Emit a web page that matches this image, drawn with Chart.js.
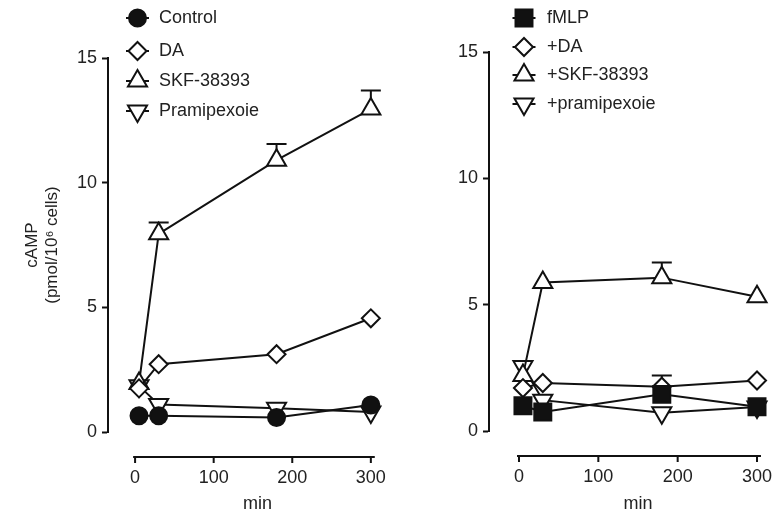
<!DOCTYPE html>
<html>
<head>
<meta charset="utf-8">
<script src="https://cdn.jsdelivr.net/npm/chart.js@4.4.1/dist/chart.umd.min.js"></script>
<style>
  html, body { margin: 0; padding: 0; background: #fff; overflow: hidden; }
  #wrap { position: relative; width: 784px; height: 515px; overflow: hidden; }
  canvas { position: absolute; top: 0; }
  #left { left: 0; }
  #right { left: 392px; }
</style>
</head>
<body>
<div id="wrap">
  <canvas id="left" width="420" height="515"></canvas>
  <canvas id="right" width="410" height="515"></canvas>
</div>
<script>
// time points (min)
var minutes = [5, 30, 180, 300];

// left panel
var leftLabels = ["Control", "DA", "SKF-38393", "Pramipexoie"];
var control = [0.65, 0.65, 0.58, 1.08];
var da = [1.75, 2.72, 3.12, 4.56];
var skf = [1.95, 7.95, 10.9, 12.95];
var skfErr = [0, 0.45, 0.65, 0.75];
var pramipexole = [1.85, 1.1, 0.95, 0.8];

// right panel
var rightLabels = ["fMLP", "+DA", "+SKF-38393", "+pramipexoie"];
var fmlp = [1.0, 0.75, 1.45, 0.96];
var fmlpDa = [1.7, 1.9, 1.75, 2.0];
var fmlpDaErr = [0, 0, 0.45, 0];
var fmlpSkf = [2.2, 5.88, 6.07, 5.31];
var fmlpSkfErr = [0, 0, 0.6, 0];
var fmlpPram = [2.55, 1.22, 0.72, 0.95];

var ink = "#111";
var textInk = "#222";
var family = "'Liberation Sans', Arial, sans-serif";

Chart.defaults.font.family = family;
Chart.defaults.font.size = 18;
Chart.defaults.color = textInk;

var markers = {
  circle: { style: "circle", radius: 8.5, fill: ink },
  diamond: { style: "rectRot", radius: 9, fill: "#fff" },
  up: { style: "triangle", radius: 11, fill: "#fff" },
  down: { style: "triangle", rotation: 180, radius: 11, fill: "#fff" },
  square: { style: "rect", radius: 12, fill: ink }
};

function series(values) {
  return minutes.map(function (m, i) { return { x: m, y: values[i] }; });
}

function makeSet(label, values, marker, errors) {
  return {
    label: label,
    data: series(values),
    errorBars: errors || null,
    borderColor: ink,
    borderWidth: 2,
    pointStyle: marker.style,
    pointRotation: marker.rotation || 0,
    pointRadius: marker.radius,
    pointHoverRadius: marker.radius,
    pointBackgroundColor: marker.fill,
    pointBorderColor: ink,
    pointBorderWidth: 2,
    tension: 0,
    clip: false
  };
}

// error bars drawn upward only, before the markers
var errorBarPlugin = {
  id: "errorBars",
  beforeDatasetsDraw: function (chart) {
    var ctx = chart.ctx, yScale = chart.scales.y;
    chart.data.datasets.forEach(function (ds, i) {
      if (!ds.errorBars) return;
      var meta = chart.getDatasetMeta(i);
      meta.data.forEach(function (pt, j) {
        var err = ds.errorBars[j];
        if (!err) return;
        var top = yScale.getPixelForValue(ds.data[j].y + err);
        ctx.save();
        ctx.strokeStyle = ink;
        ctx.lineWidth = 2;
        ctx.beginPath();
        ctx.moveTo(pt.x, pt.y);
        ctx.lineTo(pt.x, top);
        ctx.moveTo(pt.x - 10, top);
        ctx.lineTo(pt.x + 10, top);
        ctx.stroke();
        ctx.restore();
      });
    });
  }
};

// x axis sits a little below the y axis origin
var offsetAxisPlugin = {
  id: "offsetAxis",
  afterDraw: function (chart, args, opts) {
    var xScale = chart.scales.x, ctx = chart.ctx;
    var yLine = chart.chartArea.bottom + opts.gap;
    ctx.save();
    ctx.strokeStyle = ink;
    ctx.lineWidth = 2;
    ctx.beginPath();
    ctx.moveTo(xScale.getPixelForValue(opts.from), yLine);
    ctx.lineTo(xScale.getPixelForValue(opts.to), yLine);
    xScale.ticks.forEach(function (t) {
      var px = xScale.getPixelForValue(t.value);
      ctx.moveTo(px, yLine);
      ctx.lineTo(px, yLine + opts.tickLength);
    });
    ctx.stroke();
    ctx.restore();
  }
};

var panelLegendPlugin = {
  id: "panelLegend",
  afterDraw: function (chart, args, opts) {
    var ctx = chart.ctx, area = chart.chartArea;
    chart.data.datasets.forEach(function (ds, i) {
      var cx = area.left + opts.markerX, cy = area.top + opts.rows[i];
      ctx.save();
      ctx.strokeStyle = ink;
      ctx.lineWidth = 2;
      ctx.beginPath();
      ctx.moveTo(cx - 11.5, cy);
      ctx.lineTo(cx + 11.5, cy);
      ctx.stroke();
      ctx.fillStyle = ds.pointBackgroundColor;
      Chart.helpers.drawPoint(ctx, {
        pointStyle: ds.pointStyle,
        rotation: ds.pointRotation,
        radius: ds.pointRadius,
        borderWidth: 2
      }, cx, cy);
      ctx.fillStyle = textInk;
      ctx.font = "18px " + family;
      ctx.textBaseline = "middle";
      ctx.textAlign = "left";
      ctx.fillText(ds.label, area.left + opts.textX, cy);
      ctx.restore();
    });
  }
};

function makePanel(canvasId, datasets, p) {
  var ctx = document.getElementById(canvasId).getContext("2d");
  return new Chart(ctx, {
    type: "line",
    data: { datasets: datasets },
    options: {
      responsive: false,
      animation: false,
      devicePixelRatio: 1,
      layout: { padding: { top: p.top, right: p.right, left: 0, bottom: 0 } },
      plugins: {
        legend: { display: false },
        tooltip: { enabled: false },
        offsetAxis: { gap: 25, from: -2.5, to: 305, tickLength: 6 },
        panelLegend: p.legend
      },
      scales: {
        x: {
          type: "linear",
          min: p.xMin,
          max: p.xMax,
          afterFit: function (scale) { scale.height = 515 - p.top - p.plotHeight; },
          afterBuildTicks: function (scale) {
            scale.ticks = scale.ticks.filter(function (t) {
              return t.value >= 0 && t.value <= 300 && t.value % 100 === 0;
            });
          },
          ticks: { stepSize: 100, includeBounds: false, padding: 4, color: textInk, font: { size: 18 } },
          // invisible tick marks only push the labels below the offset axis line
          grid: { display: true, drawOnChartArea: false, drawTicks: true, tickLength: 31, color: "rgba(0,0,0,0)", tickColor: "rgba(0,0,0,0)" },
          border: { display: false },
          title: { display: true, text: "min", color: textInk, font: { size: 18 }, padding: { top: 0, bottom: 0 } }
        },
        y: {
          min: 0,
          max: 15,
          afterFit: function (scale) { scale.width = p.yWidth; },
          ticks: { stepSize: 5, padding: 5, color: textInk, font: { size: 18 } },
          grid: { display: true, drawOnChartArea: false, drawTicks: true, tickLength: 6, tickWidth: 2, tickColor: ink },
          border: { display: true, color: ink, width: 2 },
          title: p.yTitle
        }
      }
    },
    plugins: [errorBarPlugin, offsetAxisPlugin, panelLegendPlugin]
  });
}

makePanel("left", [
  makeSet(leftLabels[0], control, markers.circle),
  makeSet(leftLabels[1], da, markers.diamond),
  makeSet(leftLabels[2], skf, markers.up, skfErr),
  makeSet(leftLabels[3], pramipexole, markers.down)
], {
  top: 58, plotHeight: 374, right: 0, yWidth: 108,
  xMin: -34.47, xMax: 346,
  legend: { markerX: 29.5, textX: 51, rows: [-40, -7, 23, 53] },
  yTitle: {
    display: true,
    text: ["cAMP", "(pmol/10\u2076 cells)"],
    color: textInk,
    font: { size: 17 },
    padding: { top: 22, bottom: 0 }
  }
});

makePanel("right", [
  makeSet(rightLabels[0], fmlp, markers.square),
  makeSet(rightLabels[1], fmlpDa, markers.diamond, fmlpDaErr),
  makeSet(rightLabels[2], fmlpSkf, markers.up, fmlpSkfErr),
  makeSet(rightLabels[3], fmlpPram, markers.down)
], {
  top: 52, plotHeight: 379, right: 15, yWidth: 97,
  xMin: -37.8, xMax: 337.8,
  legend: { markerX: 35, textX: 58, rows: [-34, -5, 23, 52] },
  yTitle: { display: false }
});
</script>
</body>
</html>
